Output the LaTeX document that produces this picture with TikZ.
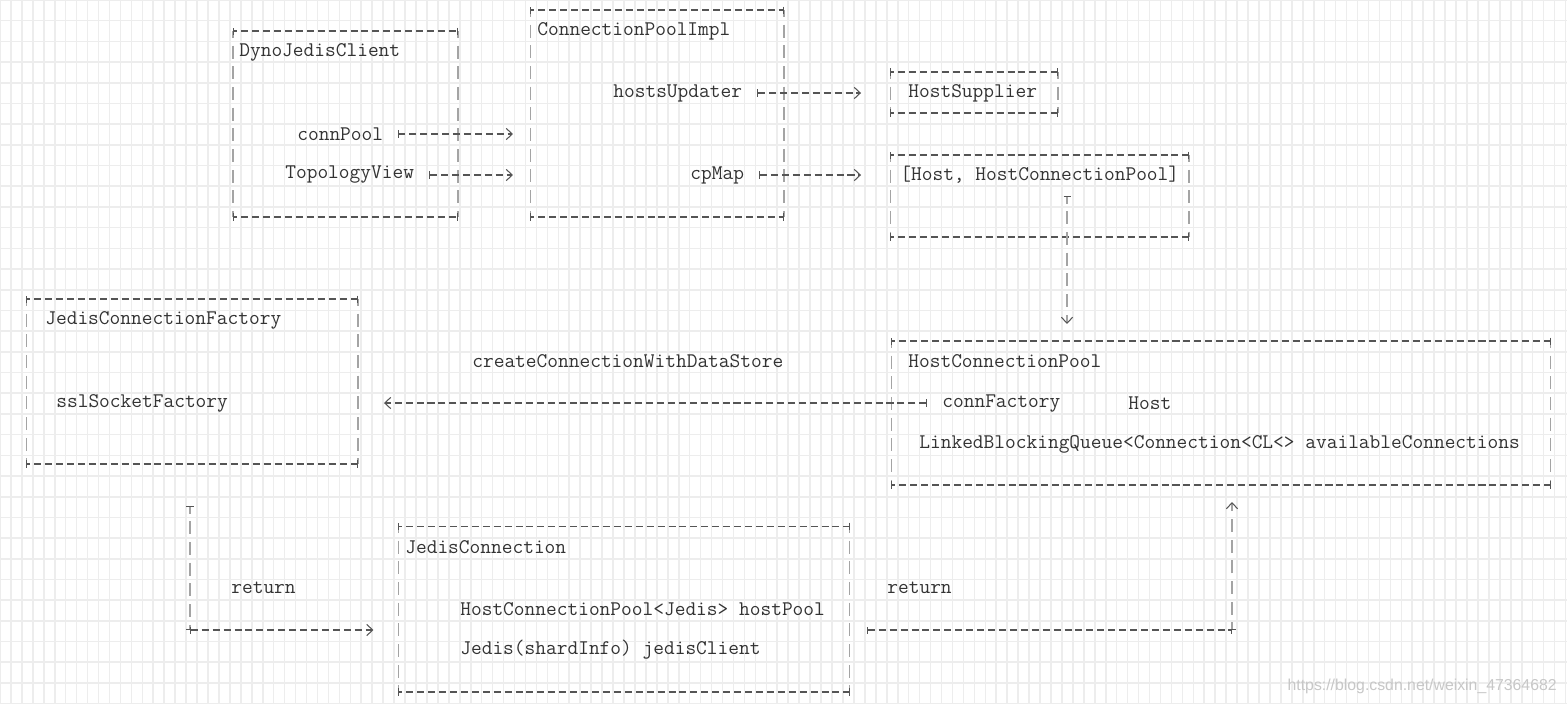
\documentclass[tikz,border=0pt]{standalone}
\usepackage{fontspec}
\newfontfamily\markfont{Liberation Sans}
\usetikzlibrary{arrows.meta}

\definecolor{txtgray}{HTML}{333333}
\definecolor{dashgray}{HTML}{555555}
\definecolor{bargray}{HTML}{A4A4A4}
\definecolor{gridgray}{HTML}{EDEDED}

\tikzset{
  crossend/.tip={Bar[width=4pt,color=dashgray]},
  chevron/.tip={Straight Barb[length=3.4pt,width=6.4pt,color=dashgray]},
  txt/.style={anchor=west, inner sep=0pt, text=txtgray, font=\fontsize{11.85}{14}\ttfamily},
  hline/.style={draw=dashgray, line width=0.6pt, dash pattern=on 4pt off 2.22pt, dash phase=2pt},
  vline/.style={draw=bargray, line width=0.6pt, dash pattern=on 7.4pt off 4.38pt, dash phase=3.5pt},
  asciibox/.style={inner sep=0pt, outer sep=0pt},
  link/.style={hline, dash phase=0pt, crossend-chevron},
  vlink/.style={vline, crossend-chevron},
  hpipe/.style={hline, dash phase=0pt, crossend-crossend},
  vpipe/.style={vline, crossend-crossend}
}

\begin{document}
\begin{tikzpicture}[x=0.02cm, y=-0.02cm]
  \useasboundingbox (0,0) rectangle (1567,704);
  % grid paper
  \draw[gridgray, line width=0.9pt, xstep=0.219cm, ystep=0.414cm] (0,704) grid (1567,0);

  % Boxes
  \node[asciibox, minimum width=4.5cm, minimum height=3.72cm] (djc) at (345.5,124) {};
  \node[asciibox, minimum width=5.08cm, minimum height=4.14cm] (cpi) at (657,113.5) {};
  \node[asciibox, minimum width=3.36cm, minimum height=0.82cm] (hsup) at (974,92.5) {};
  \node[asciibox, minimum width=5.98cm, minimum height=1.64cm] (hmap) at (1039.5,196) {};
  \node[asciibox, minimum width=6.64cm, minimum height=3.3cm] (jcf) at (192,381.5) {};
  \node[asciibox, minimum width=13.2cm, minimum height=2.88cm] (hcp) at (1221,413) {};
  \node[asciibox, minimum width=9.04cm, minimum height=3.32cm] (jconn) at (624,609) {};
  \foreach \b in {djc,cpi,hsup,hmap,jcf,hcp,jconn} {
    \draw[vline] (\b.north west) -- (\b.south west);
    \draw[vline] (\b.north east) -- (\b.south east);
    \draw[hline, crossend-crossend] (\b.north west) -- (\b.north east);
    \draw[hline, crossend-crossend] (\b.south west) -- (\b.south east);
  }

  % Texts
  \node[txt] (djcName) at (239,52) {DynoJedisClient};
  \node[txt] (connPool) at (297,134) {connPool};
  \node[txt] (topoView) at (285,175) {TopologyView};
  \node[txt] (cpiName) at (537,31) {ConnectionPoolImpl};
  \node[txt] (hostsUpd) at (613,93) {hostsUpdater};
  \node[txt] (cpMap) at (690,175) {cpMap};
  \node[txt] (hsupName) at (908,93) {HostSupplier};
  \node[txt] (hmapName) at (900,175) {[Host, HostConnectionPool]};
  \node[txt] (jcfName) at (45,320) {JedisConnectionFactory};
  \node[txt] (sslFac) at (56,403) {sslSocketFactory};
  \node[txt] (createConn) at (472,361) {createConnectionWithDataStore};
  \node[txt] (hcpName) at (908,361) {HostConnectionPool};
  \node[txt] (connFac) at (942,403) {connFactory};
  \node[txt] (hcpHost) at (1128,403) {Host};
  \node[txt] (queue) at (919,444) {LinkedBlockingQueue<Connection<CL<> availableConnections};
  \node[txt] (jconnName) at (405,547) {JedisConnection};
  \node[txt] (hostPool) at (460,609) {HostConnectionPool<Jedis> hostPool};
  \node[txt] (jedisCli) at (460,650) {Jedis(shardInfo) jedisClient};
  \node[txt] (retLeft) at (231,588) {return};
  \node[txt] (retRight) at (887,588) {return};
  \node[anchor=east, inner sep=0pt, text=black!22, font=\markfont\fontsize{9}{10}\selectfont] (watermark) at (1557,686) {https://blog.csdn.net/weixin\_47364682};

  % Arrows
  \coordinate (poolOut) at (1067,196);
  \coordinate (retLtop) at (190,506);
  \coordinate (retLbend) at (190,630);
  \coordinate (retRstart) at (867,630);
  \coordinate (retRbend) at (1232,630);

  \draw[link, shorten <=8pt, shorten >=9.7pt] (connPool) -- (cpi.west |- connPool);
  \draw[link, shorten <=8.5pt, shorten >=9.7pt] (topoView) -- (cpi.west |- topoView);
  \draw[link, shorten <=8.5pt, shorten >=16.5pt] (hostsUpd) -- (hsup.west |- hostsUpd);
  \draw[link, shorten <=8.5pt, shorten >=16.5pt] (cpMap) -- (hmap.west |- cpMap);
  \draw[vlink, shorten >=9.7pt] (poolOut) -- (hcp.north -| poolOut);
  \draw[link, shorten <=8.5pt, shorten >=14.8pt] (connFac) -- (jcf.east |- connFac);
  \draw[vpipe] (retLtop) -- (retLbend);
  \draw[link, shorten >=14pt] (retLbend) -- (jconn.west |- retLbend);
  \draw[hpipe] (retRstart) -- (retRbend);
  \draw[vlink, shorten >=9.7pt] (retRbend) -- (hcp.south -| retRbend);
\end{tikzpicture}
\end{document}
